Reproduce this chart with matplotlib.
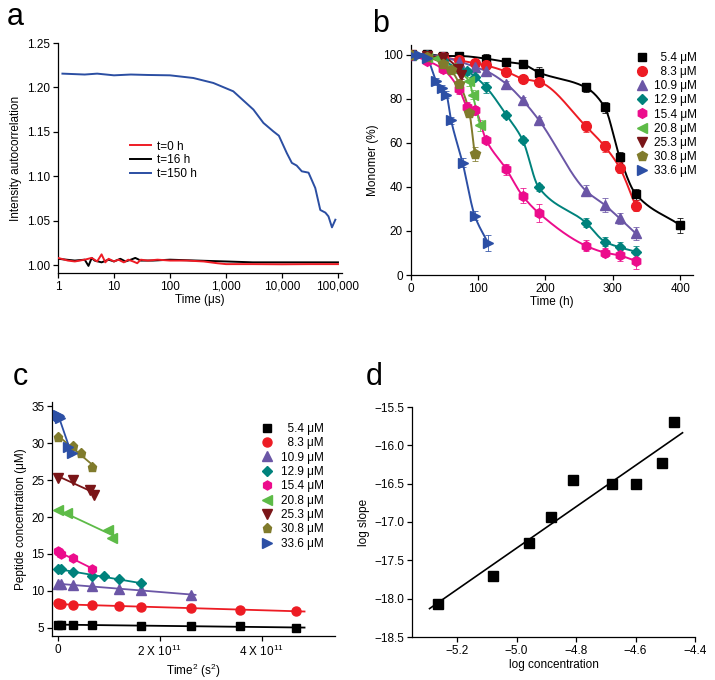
import numpy as np
import matplotlib
matplotlib.use("Agg")
import matplotlib.pyplot as plt
from matplotlib.ticker import FixedLocator, FuncFormatter, NullLocator

plt.rcParams["font.family"] = ["Liberation Sans", "DejaVu Sans"]
plt.rcParams["mathtext.fontset"] = "custom"
plt.rcParams["mathtext.rm"] = "Liberation Sans"
plt.rcParams["mathtext.it"] = "Liberation Sans:italic"
plt.rcParams["axes.unicode_minus"] = True

# ---------------- panel a : DLS autocorrelation ----------------
a_time_0h = [1, 1.5, 2, 3, 4, 5, 6, 7, 8, 10, 12, 15, 18, 22, 26, 30, 40, 60,
             100, 200, 400, 700, 1000, 3000, 10000, 30000, 100000]
a_corr_0h = [1.008, 1.005, 1.004, 1.006, 1.008, 1.004, 1.012, 1.003, 1.007,
             1.004, 1.006, 1.003, 1.006, 1.004, 1.002, 1.006, 1.005, 1.006,
             1.005, 1.005, 1.004, 1.002, 1.001, 1.001, 1.0008, 1.001, 1.001]
a_time_16h = [1, 2, 3, 3.5, 4, 4.5, 6, 8, 10, 13, 16, 20, 24, 30, 50, 100,
              300, 1000, 3000, 10000, 100000]
a_corr_16h = [1.007, 1.005, 1.006, 0.999, 1.008, 1.005, 1.003, 1.006, 1.004,
              1.007, 1.004, 1.006, 1.008, 1.005, 1.005, 1.006, 1.005, 1.004,
              1.003, 1.003, 1.003]
a_time_150h = [1.2, 3, 5, 10, 20, 40, 100, 261, 594, 1350, 3090, 4660, 7000,
               8800, 12200, 15000, 18300, 22600, 29800, 39300, 48300, 59500,
               67600, 78100, 89800]
a_corr_150h = [1.2155, 1.2145, 1.2155, 1.2136, 1.2145, 1.2140, 1.2136, 1.2106,
               1.2050, 1.1956, 1.1750, 1.1600, 1.1505, 1.1456, 1.1260, 1.1150,
               1.1120, 1.1055, 1.1040, 1.0867, 1.0620, 1.0590, 1.0548, 1.0424,
               1.0510]
a_labels = ["t=0 h", "t=16 h", "t=150 h"]

# ---------------- panel b : monomer vs time ----------------
conc_labels = ["5.4", "8.3", "10.9", "12.9", "15.4", "20.8", "25.3", "30.8", "33.6"]

b_time_54 = [0, 24, 48, 72, 112, 142, 166, 190, 260, 288, 310, 334, 400]
b_mono_54 = [100, 100.3, 99.5, 99.5, 98.3, 96.8, 95.8, 92.0, 85.2, 76.2, 53.8, 36.8, 22.6]
b_err_54 = [1.0, 1.0, 1.5, 1.5, 2.0, 2.0, 1.5, 2.5, 2.0, 2.5, 2.0, 2.5, 3.5]

b_time_83 = [0, 24, 48, 72, 96, 112, 142, 166, 190, 260, 288, 310, 334]
b_mono_83 = [100, 99.5, 99.0, 97.5, 96.2, 95.2, 92.4, 89.2, 87.8, 67.6, 58.4, 48.8, 31.4]
b_err_83 = [1.0, 1.0, 1.0, 1.5, 1.5, 1.5, 1.5, 1.5, 2.0, 2.5, 2.5, 2.5, 2.5]

b_time_109 = [0, 24, 48, 72, 96, 112, 142, 166, 190, 260, 288, 310, 334]
b_mono_109 = [100, 100, 99.0, 97.0, 94.5, 92.7, 86.8, 79.5, 70.5, 38.3, 31.8, 25.8, 18.9]
b_err_109 = [1.0, 1.0, 1.0, 1.5, 1.5, 2.0, 1.5, 1.5, 1.5, 2.5, 3.0, 2.5, 3.0]

b_time_129 = [0, 24, 48, 72, 84, 96, 112, 142, 166, 190, 260, 288, 310, 334]
b_mono_129 = [100, 100, 97.5, 93.5, 92.5, 90.0, 85.3, 72.7, 61.4, 39.8, 23.8, 15.2, 12.6, 10.6]
b_err_129 = [1.0, 1.0, 1.0, 1.5, 1.5, 1.5, 2.5, 1.5, 1.5, 1.5, 2.0, 2.0, 2.5, 2.5]

b_time_154 = [0, 24, 48, 72, 84, 96, 112, 142, 166, 190, 260, 288, 310, 334]
b_mono_154 = [100, 97.4, 93.5, 84.4, 76.5, 74.8, 61.3, 48.0, 36.0, 28.2, 13.3, 10.2, 8.9, 6.4]
b_err_154 = [1.0, 1.0, 1.5, 2.0, 2.0, 2.0, 1.5, 2.5, 3.5, 4.0, 2.5, 2.0, 2.5, 3.5]

b_time_208 = [0, 24, 40, 60, 87, 92, 103]
b_mono_208 = [100, 99.0, 98.5, 94.0, 88.0, 82.0, 68.0]
b_err_208 = [1.0, 1.0, 1.0, 1.5, 2.0, 2.0, 2.5]

b_time_253 = [0, 24, 48, 70, 74]
b_mono_253 = [100, 99.5, 98.8, 93.7, 91.0]
b_err_253 = [1.0, 1.0, 1.0, 1.5, 2.0]

b_time_308 = [0, 24, 48, 60, 72, 87, 95]
b_mono_308 = [100, 99.0, 96.0, 93.0, 87.0, 73.8, 55.0]
b_err_308 = [1.0, 1.0, 1.0, 1.5, 1.5, 2.0, 3.0]

b_time_336 = [0, 12, 24, 38, 46, 53, 60, 77, 95, 115]
b_mono_336 = [100, 100, 98.5, 88.0, 84.8, 82.0, 70.3, 51.0, 27.0, 14.5]
b_err_336 = [1.0, 1.0, 1.0, 1.5, 1.5, 1.5, 1.5, 2.0, 2.0, 3.5]

# ---------------- panel c : concentration vs time^2 ----------------
c_time_54 = [0, 24, 48, 72, 112, 142, 166, 190]
c_conc_54 = [5.4, 5.45, 5.4, 5.4, 5.3, 5.25, 5.2, 5.0]
c_time_83 = [0, 16, 24, 48, 72, 96, 112, 142, 166, 190]
c_conc_83 = [8.3, 8.25, 8.2, 8.05, 8.05, 7.95, 7.85, 7.65, 7.45, 7.3]
c_time_109 = [0, 24, 48, 72, 96, 112, 142]
c_conc_109 = [11.0, 10.9, 10.8, 10.6, 10.3, 10.1, 9.5]
c_time_129 = [0, 24, 48, 72, 84, 96, 112]
c_conc_129 = [13.0, 12.9, 12.6, 12.0, 12.0, 11.6, 11.05]
c_time_154 = [0, 16, 24, 48, 72]
c_conc_154 = [15.4, 15.2, 15.0, 14.5, 13.0]
c_time_208 = [0, 38, 87, 91]
c_conc_208 = [20.9, 20.5, 18.3, 17.1]
c_time_253 = [0, 48, 70, 74]
c_conc_253 = [25.3, 25.0, 23.7, 23.0]
c_time_308 = [0, 48, 60, 72]
c_conc_308 = [30.8, 29.6, 28.6, 26.8]
c_time_336 = [0, 12, 20, 40, 46]
c_conc_336 = [33.8, 33.6, 33.4, 29.5, 28.7]

# ---------------- panel d : log slope vs log concentration ----------------
d_log_conc = [-5.265, -5.081, -4.959, -4.886, -4.811, -4.679, -4.597, -4.510, -4.472]
d_log_slope = [-18.07, -17.70, -17.28, -16.94, -16.45, -16.50, -16.50, -16.23, -15.70]

colors = ["#000000", "#ED1C24", "#6B56A6", "#00827C", "#EC0C8C",
          "#5DBB47", "#7A1518", "#807B2C", "#2C4FA5"]
markers = ["s", "o", "^", "D", "h", "<", "v", "p", ">"]
msizes = [6, 7, 7, 5.5, 7, 7, 7, 7, 7]

b_series = [(b_time_54, b_mono_54, b_err_54), (b_time_83, b_mono_83, b_err_83),
            (b_time_109, b_mono_109, b_err_109), (b_time_129, b_mono_129, b_err_129),
            (b_time_154, b_mono_154, b_err_154), (b_time_208, b_mono_208, b_err_208),
            (b_time_253, b_mono_253, b_err_253), (b_time_308, b_mono_308, b_err_308),
            (b_time_336, b_mono_336, b_err_336)]
c_series = [(c_time_54, c_conc_54), (c_time_83, c_conc_83), (c_time_109, c_conc_109),
            (c_time_129, c_conc_129), (c_time_154, c_conc_154), (c_time_208, c_conc_208),
            (c_time_253, c_conc_253), (c_time_308, c_conc_308), (c_time_336, c_conc_336)]


def pchip(x, y, xs):
    """Monotone cubic curve through the points (for the smooth guide lines)."""
    x = np.asarray(x, float)
    y = np.asarray(y, float)
    h = np.diff(x)
    d = np.diff(y) / h
    m = np.zeros_like(y)
    m[0], m[-1] = d[0], d[-1]
    for k in range(1, len(x) - 1):
        if d[k - 1] * d[k] > 0:
            w1 = 2 * h[k] + h[k - 1]
            w2 = h[k] + 2 * h[k - 1]
            m[k] = (w1 + w2) / (w1 / d[k - 1] + w2 / d[k])
    idx = np.clip(np.searchsorted(x, xs) - 1, 0, len(h) - 1)
    t = (xs - x[idx]) / h[idx]
    h00 = 2 * t**3 - 3 * t**2 + 1
    h10 = t**3 - 2 * t**2 + t
    h01 = -2 * t**3 + 3 * t**2
    h11 = t**3 - t**2
    return (h00 * y[idx] + h10 * h[idx] * m[idx]
            + h01 * y[idx + 1] + h11 * h[idx] * m[idx + 1])


def style_axes(ax):
    for side in ["top", "right"]:
        ax.spines[side].set_visible(False)
    for side in ["left", "bottom"]:
        ax.spines[side].set_linewidth(0.9)
    ax.tick_params(direction="out", length=3.5, width=0.9, labelsize=8.5, pad=2)


W, H = 715, 680
fig = plt.figure(figsize=(W / 100, H / 100), dpi=100)


def px_axes(left, top, right, bottom):
    return fig.add_axes([left / W, 1 - bottom / H, (right - left) / W, (bottom - top) / H])


# ---- a ----
ax = px_axes(58, 43, 342, 273)
style_axes(ax)
ax.plot(a_time_0h, a_corr_0h, color="#EE1C25", lw=1.4, label=a_labels[0], zorder=3)
ax.plot(a_time_16h, a_corr_16h, color="#000000", lw=1.4, label=a_labels[1], zorder=2)
ax.plot(a_time_150h, a_corr_150h, color="#2B4EA2", lw=1.4, label=a_labels[2])
ax.set_xscale("log")
ax.set_xlim(1, 1.18e5)
ax.set_ylim(0.991, 1.25)
ax.xaxis.set_major_locator(FixedLocator([1, 10, 100, 1e3, 1e4, 1e5]))
ax.xaxis.set_minor_locator(NullLocator())
ax.xaxis.set_major_formatter(FuncFormatter(lambda v, p: f"{int(round(v)):,}"))
ax.set_yticks([1.00, 1.05, 1.10, 1.15, 1.20, 1.25])
ax.yaxis.set_major_formatter(FuncFormatter(lambda v, p: f"{v:.2f}"))
ax.set_xlabel("Time (μs)", fontsize=8.5, labelpad=1)
ax.set_ylabel("Intensity autocorrelation", fontsize=8.5, labelpad=4)
handles, labels = ax.get_legend_handles_labels()
ax.legend(handles, labels, loc="center left", bbox_to_anchor=(0.215, 0.49),
          frameon=False, fontsize=8.5, handlelength=1.8, handletextpad=0.5,
          labelspacing=0.15)

# ---- b ----
ax = px_axes(410.7, 45, 693, 275)
style_axes(ax)
for i, (t, m, e) in enumerate(b_series):
    tt = np.linspace(t[0], t[-1], 300)
    ax.plot(tt, pchip(t, m, tt), color=colors[i], lw=1.4, zorder=2 + i * 0.01)
    ax.errorbar(t, m, yerr=e, fmt="none", ecolor=colors[i], elinewidth=0.7,
                capsize=2, capthick=0.7, alpha=0.8, zorder=2)
    ax.plot(t, m, ls="none", marker=markers[i], ms=msizes[i], color=colors[i],
            mec=colors[i], label="\u2007" * (4 - len(conc_labels[i])) + conc_labels[i] + " μM",
            zorder=3 + i * 0.01)
ax.set_xlim(0, 419)
ax.set_ylim(0, 104.5)
ax.set_xticks([0, 100, 200, 300, 400])
ax.set_yticks([0, 20, 40, 60, 80, 100])
ax.set_xlabel("Time (h)", fontsize=8.5, labelpad=1)
ax.set_ylabel("Monomer (%)", fontsize=8.5, labelpad=3)
ax.legend(loc="upper right", bbox_to_anchor=(1.04, 1.0), frameon=False,
          fontsize=8.5, handlelength=1.0, handletextpad=0.5, labelspacing=0.18,
          borderaxespad=0.2)

# ---- c ----
ax = px_axes(52, 401.7, 335, 636)
style_axes(ax)
for i, (t, cc) in enumerate(c_series):
    x = (np.asarray(t, float) * 3600.0) ** 2
    k, b0 = np.polyfit(x, cc, 1)
    xx = np.array([x.min(), x.max() * 1.035])
    ax.plot(xx, k * xx + b0, color=colors[i], lw=1.3, zorder=2)
    ax.plot(x, cc, ls="none", marker=markers[i], ms=msizes[i] - 0.5, color=colors[i],
            mec=colors[i], label="\u2007" * (4 - len(conc_labels[i])) + conc_labels[i] + " μM",
            zorder=3)
ax.set_xlim(-0.11e11, 5.44e11)
ax.set_ylim(3.9, 35.6)
ax.set_xticks([0, 2e11, 4e11])
ax.set_xticklabels(["0", "2 X 10$^{11}$", "4 X 10$^{11}$"])
ax.set_yticks([5, 10, 15, 20, 25, 30, 35])
ax.set_xlabel("Time$^2$ (s$^2$)", fontsize=8.5, labelpad=2)
ax.set_ylabel("Peptide concentration (μM)", fontsize=8.5, labelpad=3)
ax.legend(loc="upper left", bbox_to_anchor=(0.70, 0.955), frameon=False,
          fontsize=8.5, handlelength=1.0, handletextpad=0.7, labelspacing=0.2)

# ---- d ----
ax = px_axes(412, 407, 695, 637)
style_axes(ax)
xd = np.asarray(d_log_conc)
yd = np.asarray(d_log_slope)
k, b0 = np.polyfit(xd, yd, 1)
xx = np.array([xd.min() - 0.028, xd.max() + 0.03])
ax.plot(xx, k * xx + b0, color="black", lw=1.2)
ax.plot(xd, yd, ls="none", marker="s", ms=6.5, color="black")
ax.set_xlim(-5.352, -4.4)
ax.set_ylim(-18.5, -15.5)
ax.set_xticks([-5.2, -5.0, -4.8, -4.6, -4.4])
ax.set_yticks([-15.5, -16.0, -16.5, -17.0, -17.5, -18.0, -18.5])
ax.xaxis.set_major_formatter(FuncFormatter(lambda v, p: f"{v:.1f}".replace("-", "\u2212")))
ax.yaxis.set_major_formatter(FuncFormatter(lambda v, p: f"{v:.1f}".replace("-", "\u2212")))
ax.set_xlabel("log concentration", fontsize=8.5, labelpad=2)
ax.set_ylabel("log slope", fontsize=8.5, labelpad=3)

# panel letters
for letter, x, y in [("a", 7, 25), ("b", 372, 32), ("c", 13, 385), ("d", 366, 385)]:
    fig.text(x / W, 1 - y / H, letter, fontsize=22, va="baseline", ha="left")

fig.savefig("out.png", dpi=100)
